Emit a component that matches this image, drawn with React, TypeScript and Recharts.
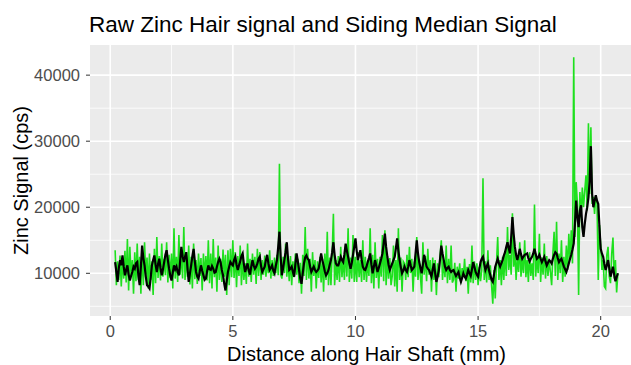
import React from 'react';
import { LineChart, Line, XAxis, YAxis, CartesianGrid, Label } from 'recharts';

const FONT = '"Liberation Sans", Arial, Helvetica, sans-serif';

// sampling along the shaft (mm)
const startMm = 0.2;
const stepMm = 0.05;

const xTicks = [0, 5, 10, 15, 20];
const yTicks = [10000, 20000, 30000, 40000];
const xMinor = [2.5, 7.5, 12.5, 17.5];
const yMinor = [5000, 15000, 25000, 35000];

// raw Zn signal (thousand cps), one row per mm (first row starts at 0.2 mm)
const rawZincK = [
  13.5, 8.2, 11.8, 9.0, 12.7, 8.0, 12.2, 9.2, 13.4, 8.6, 15.2, 7.4, 14.0, 9.5, 12.0, 6.9,
  13.2, 8.8, 14.5, 9.0, 12.5, 6.9, 13.6, 8.2, 14.7, 9.4, 12.4, 7.7, 13.0, 9.0, 11.8, 6.7, 13.7, 8.5, 15.5, 9.3,
  12.6, 8.9, 14.5, 9.5, 12.2, 9.7, 14.7, 8.6, 12.8, 9.3, 13.0, 7.7, 16.8, 9.2, 12.5, 8.7, 15.8, 9.8, 13.2, 9.2,
  17.0, 9.0, 12.8, 9.5, 14.2, 8.3, 12.5, 7.7, 14.5, 9.1, 12.0, 8.4, 13.0, 9.6, 12.3, 7.4, 13.0, 9.3, 12.6, 8.9,
  15.0, 8.5, 13.0, 7.7, 15.2, 9.4, 12.4, 7.2, 14.2, 9.0, 12.2, 8.7, 13.6, 9.5, 12.8, 6.7, 13.5, 8.2, 13.7, 9.4,
  15.0, 9.3, 13.2, 7.9, 12.6, 9.6, 14.2, 8.2, 12.4, 9.0, 11.5, 8.4, 14.5, 9.5, 12.2, 8.7, 13.0, 9.8, 12.5, 8.4,
  13.7, 9.6, 13.2, 9.0, 12.0, 9.8, 12.7, 9.5, 11.8, 10.0, 13.5, 9.2, 12.0, 9.6, 12.4, 10.0, 12.8, 9.7, 26.6, 9.8,
  9.2, 12.5, 10.0, 14.5, 9.5, 12.0, 8.8, 12.6, 8.2, 11.8, 9.4, 13.0, 9.8, 12.2, 8.5, 11.6, 6.9, 12.8, 9.6, 17.0,
  9.0, 13.7, 9.2, 12.2, 7.2, 13.2, 9.6, 12.0, 7.7, 11.8, 9.3, 12.5, 8.6, 12.2, 7.2, 13.0, 9.0, 16.3, 8.2, 12.4,
  8.2, 13.0, 19.0, 8.2, 12.0, 9.0, 12.6, 8.7, 14.0, 9.4, 12.2, 9.0, 14.2, 9.5, 16.8, 8.7, 12.4, 9.2, 15.8, 8.7,
  12.5, 8.7, 13.2, 9.4, 12.0, 8.7, 15.0, 9.0, 12.5, 8.7, 12.0, 9.6, 16.8, 8.5, 12.8, 7.7, 14.7, 9.3, 12.2, 7.7,
  12.5, 9.5, 15.8, 8.8, 16.5, 8.2, 12.5, 9.2, 12.3, 8.2, 9.6, 14.2, 8.0, 12.0, 7.2, 16.8, 9.0, 12.4, 7.2, 11.8,
  11.5, 9.0, 12.8, 9.4, 14.0, 10.0, 12.2, 7.2, 11.8, 9.5, 15.5, 9.0, 12.0, 9.5, 6.9, 14.7, 9.8, 12.6, 8.8, 13.7,
  9.8, 12.0, 7.2, 12.4, 9.0, 12.0, 6.7, 11.5, 9.4, 12.6, 15.0, 9.0, 12.0, 9.4, 14.2, 8.5, 12.2, 9.0, 14.2, 8.6,
  9.0, 11.6, 7.2, 11.0, 9.2, 11.5, 8.5, 10.8, 9.5, 12.2, 8.8, 11.0, 6.9, 11.4, 8.6, 14.2, 8.5, 11.8, 9.0, 11.5,
  8.2, 11.0, 8.8, 10.5, 24.4, 9.0, 11.8, 8.6, 13.5, 9.0, 11.2, 8.2, 5.4, 10.5, 6.2, 11.4, 15.5, 9.0, 12.0, 8.2,
  12.5, 9.0, 13.4, 9.6, 17.0, 10.5, 12.8, 9.8, 19.1, 11.0, 13.5, 9.0, 12.4, 10.2, 14.7, 9.5, 12.2, 10.0, 15.0, 9.4,
  12.0, 8.7, 13.2, 9.6, 11.5, 9.0, 20.4, 9.5, 12.5, 10.0, 16.0, 8.7, 12.4, 9.8, 14.5, 9.2, 12.6, 9.6, 12.0, 10.2,
  8.2, 13.0, 16.3, 9.6, 17.8, 9.0, 13.0, 10.0, 15.0, 8.7, 12.5, 9.5, 14.2, 10.5, 16.0, 12.0, 16.5, 11.5, 42.7, 15.5,
  23.8, 20.5, 6.7, 22.3, 18.5, 23.0, 20.0, 22.5, 24.85, 19.5, 32.7, 22.0, 32.1, 20.5, 21.6, 19.0, 21.8, 20.8, 9.0, 17.3,
  14.2, 10.5, 12.0, 8.0, 7.7, 12.8, 14.0, 9.5, 8.5, 13.0, 15.4, 9.2, 12.0, 7.1, 10.0,
];

// sliding median of the same signal (thousand cps)
const medianZincK = [
  11.7, 10.2, 8.7, 10.8, 12.0, 11.2, 12.7, 11.0, 9.7, 10.5, 11.2, 9.8, 8.9, 9.6, 10.2, 11.0,
  10.7, 11.5, 11.7, 9.6, 8.2, 11.0, 14.2, 12.3, 11.2, 9.5, 8.2, 8.0, 7.7, 9.4, 11.2, 12.0, 12.7, 11.3, 10.2, 11.4,
  12.2, 10.8, 9.7, 10.6, 11.7, 12.8, 13.5, 12.0, 10.7, 9.6, 8.9, 10.1, 11.2, 10.6, 11.0, 10.2, 9.7, 11.8, 14.0, 12.6,
  11.7, 12.5, 13.2, 10.8, 8.7, 10.0, 11.2, 12.6, 13.7, 11.8, 10.2, 9.5, 9.2, 10.3, 11.2, 10.4, 9.7, 9.0, 9.2, 10.3,
  11.2, 10.6, 10.5, 11.1, 10.7, 10.1, 10.2, 11.0, 11.7, 12.2, 11.7, 10.5, 9.7, 8.4, 7.4, 8.8, 10.2, 11.0, 11.7, 11.4,
  11.2, 12.0, 12.5, 11.3, 10.5, 11.2, 11.8, 12.6, 13.0, 11.4, 10.2, 10.9, 11.5, 10.4, 9.8, 11.0, 12.0, 11.2, 10.7, 11.0,
  11.5, 12.2, 12.5, 11.1, 10.2, 10.6, 11.0, 12.0, 12.8, 11.5, 10.5, 10.8, 11.2, 10.4, 10.0, 11.1, 12.0, 14.0, 16.3, 12.5,
  9.7, 10.8, 12.0, 13.2, 14.7, 12.2, 10.5, 10.7, 11.0, 10.2, 9.5, 11.4, 13.0, 11.8, 10.5, 9.2, 8.4, 10.0, 11.5, 12.4,
  12.7, 12.2, 12.0, 11.0, 10.2, 10.6, 11.0, 10.5, 10.2, 10.4, 10.7, 11.8, 13.0, 12.0, 11.2, 10.3, 9.7, 10.0, 10.5, 11.3,
  12.0, 13.2, 14.7, 12.8, 11.5, 11.2, 11.2, 11.8, 12.5, 12.0, 11.7, 12.9, 14.5, 13.4, 12.5, 11.5, 10.7, 11.6, 12.8, 14.0,
  15.3, 13.4, 12.0, 12.8, 13.5, 12.1, 11.0, 10.6, 10.5, 11.0, 11.7, 12.3, 13.0, 11.3, 10.0, 11.0, 12.0, 11.1, 10.2, 10.8,
  11.5, 12.2, 13.0, 14.5, 16.0, 14.0, 12.5, 11.3, 10.5, 11.0, 11.5, 12.0, 12.5, 13.8, 15.3, 13.4, 12.0, 10.9, 10.0, 10.4,
  11.0, 10.5, 10.2, 11.0, 12.0, 11.2, 10.5, 10.7, 11.0, 13.0, 15.0, 13.0, 11.7, 10.8, 10.0, 11.3, 12.8, 11.9, 11.0, 10.7,
  10.5, 10.0, 9.5, 10.6, 11.5, 10.0, 8.7, 9.5, 10.5, 12.2, 14.2, 13.0, 12.0, 11.0, 10.5, 10.8, 11.0, 10.5, 10.2, 10.4,
  10.5, 10.0, 9.6, 9.9, 10.2, 9.4, 8.7, 9.3, 10.0, 9.5, 9.2, 9.8, 10.5, 10.0, 9.6, 10.6, 11.7, 11.0, 10.2, 9.8,
  9.5, 10.6, 11.7, 12.2, 12.5, 11.4, 10.5, 11.0, 11.5, 10.4, 9.7, 9.0, 8.7, 9.8, 11.0, 11.6, 12.2, 11.5, 11.0, 11.5,
  12.0, 12.7, 13.2, 14.0, 14.7, 13.8, 13.0, 15.5, 18.5, 16.0, 14.0, 12.8, 12.0, 12.8, 13.7, 12.9, 12.2, 12.5, 12.8, 12.9,
  13.0, 12.3, 11.8, 12.2, 12.5, 13.0, 13.7, 12.9, 12.2, 12.4, 12.8, 12.2, 11.7, 12.1, 12.5, 11.8, 11.2, 11.6, 12.0, 11.8,
  11.5, 12.2, 12.8, 13.2, 13.0, 12.3, 11.7, 12.0, 12.2, 11.6, 11.0, 10.6, 10.2, 10.8, 11.5, 12.2, 12.8, 13.6, 14.5, 17.5,
  21.0, 18.5, 17.0, 19.5, 20.3, 17.0, 15.5, 17.5, 19.0, 20.0, 21.5, 24.0, 29.25, 22.0, 20.0, 21.0, 21.8, 21.0, 20.5, 17.0,
  13.7, 13.0, 12.5, 11.4, 10.5, 11.2, 12.0, 10.8, 9.5, 10.2, 11.0, 9.8, 8.8, 9.4, 10.0,
];

const rows = rawZincK.map((raw, i) => ({
  distance: Math.round((startMm + i * stepMm) * 100) / 100,
  raw: raw * 1000,
  median: medianZincK[i] * 1000,
}));

export default function App() {
  return (
    <div
      style={{
        position: 'absolute',
        left: 0,
        top: 0,
        width: 631,
        height: 365,
        overflow: 'hidden',
        background: '#ffffff',
        fontFamily: FONT,
      }}
    >
      <div
        style={{
          position: 'absolute',
          left: 89,
          top: 14,
          fontSize: 22.5,
          lineHeight: 1,
          color: '#000',
          whiteSpace: 'nowrap',
        }}
      >
        Raw Zinc Hair signal and Siding Median Signal
      </div>
      <LineChart
        width={643}
        height={365}
        data={rows}
        margin={{ top: 45, right: 0, bottom: 0, left: 0 }}
        style={{ fontFamily: FONT }}
      >
        <CartesianGrid
          fill="#EBEBEB"
          stroke="#FFFFFF"
          strokeWidth={0.8}
          horizontalValues={yMinor}
          verticalValues={xMinor}
        />
        <CartesianGrid
          stroke="#FFFFFF"
          strokeWidth={1.6}
          horizontalValues={yTicks}
          verticalValues={xTicks}
        />
        <XAxis
          type="number"
          dataKey="distance"
          domain={[-0.825, 21.725]}
          ticks={xTicks}
          interval={0}
          allowDataOverflow
          height={49}
          axisLine={false}
          tickLine={{ stroke: '#333333' }}
          tickSize={4}
          tickMargin={5}
          tick={{ fill: '#4D4D4D', fontSize: 16.5 }}
        >
          <Label
            value="Distance along Hair Shaft (mm)"
            position="insideBottom"
            offset={4}
            style={{ fill: '#000', fontSize: 20 }}
          />
        </XAxis>
        <YAxis
          type="number"
          domain={[3535, 44565]}
          ticks={yTicks}
          interval={0}
          allowDataOverflow
          width={90}
          axisLine={false}
          tickLine={{ stroke: '#333333' }}
          tickSize={4}
          tickMargin={6}
          tick={{ fill: '#4D4D4D', fontSize: 16.5 }}
        >
          <Label
            value="Zinc Signal (cps)"
            angle={-90}
            position="insideLeft"
            offset={21}
            style={{ fill: '#000', fontSize: 20, textAnchor: 'middle' }}
          />
        </YAxis>
        <Line
          type="linear"
          dataKey="raw"
          stroke="#1EE01E"
          strokeWidth={1.6}
          dot={false}
          activeDot={false}
          isAnimationActive={false}
        />
        <Line
          type="linear"
          dataKey="median"
          stroke="#000000"
          strokeWidth={2.2}
          dot={false}
          activeDot={false}
          isAnimationActive={false}
        />
      </LineChart>
    </div>
  );
}
